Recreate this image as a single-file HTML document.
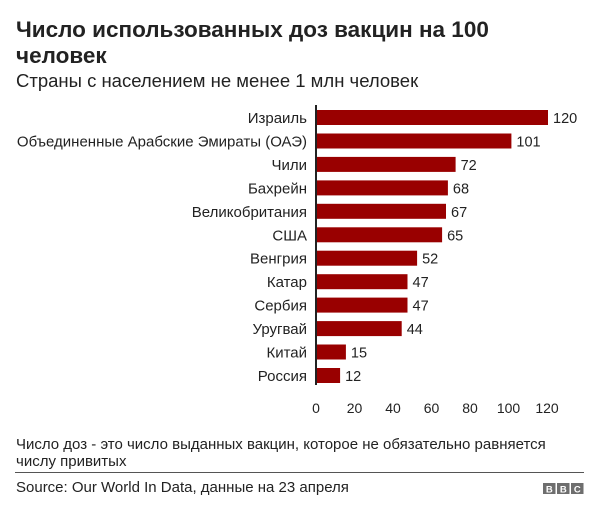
<!DOCTYPE html>
<html><head><meta charset="utf-8">
<style>
html,body{margin:0;padding:0;background:#fff;}
svg{display:block;font-family:"Liberation Sans","DejaVu Sans",sans-serif;}
</style></head>
<body>
<svg width="600" height="514" viewBox="0 0 600 514" xmlns="http://www.w3.org/2000/svg">
<rect width="600" height="514" fill="#fff"/>
<text x="16" y="37" font-size="22.5" font-weight="bold" fill="#222">Число использованных доз вакцин на 100</text>
<text x="16" y="63" font-size="22.5" font-weight="bold" fill="#222">человек</text>
<text x="16" y="87" font-size="18.5" fill="#222">Страны с населением не менее 1 млн человек</text>

<g font-size="15" fill="#222">
<g text-anchor="end">
<text x="307" y="123">Израиль</text>
<text x="307" y="146.5">Объединенные Арабские Эмираты (ОАЭ)</text>
<text x="307" y="170">Чили</text>
<text x="307" y="193.4">Бахрейн</text>
<text x="307" y="216.8">Великобритания</text>
<text x="307" y="240.3">США</text>
<text x="307" y="263.7">Венгрия</text>
<text x="307" y="287.2">Катар</text>
<text x="307" y="310.6">Сербия</text>
<text x="307" y="334">Уругвай</text>
<text x="307" y="357.5">Китай</text>
<text x="307" y="381">Россия</text>
</g>
</g>
<g fill="#990000">
<rect x="317" y="110" width="231" height="15"/>
<rect x="317" y="133.5" width="194.4" height="15"/>
<rect x="317" y="156.9" width="138.6" height="15"/>
<rect x="317" y="180.4" width="130.9" height="15"/>
<rect x="317" y="203.8" width="129" height="15"/>
<rect x="317" y="227.3" width="125.1" height="15"/>
<rect x="317" y="250.7" width="100.1" height="15"/>
<rect x="317" y="274.2" width="90.5" height="15"/>
<rect x="317" y="297.6" width="90.5" height="15"/>
<rect x="317" y="321.1" width="84.7" height="15"/>
<rect x="317" y="344.5" width="28.9" height="15"/>
<rect x="317" y="368" width="23.1" height="15"/>
</g>
<rect x="315" y="105" width="2" height="280" fill="#222"/>
<g font-size="14.5" fill="#222">
<text x="553" y="123">120</text>
<text x="516.4" y="146.5">101</text>
<text x="460.6" y="170">72</text>
<text x="452.9" y="193.4">68</text>
<text x="451" y="216.8">67</text>
<text x="447.1" y="240.3">65</text>
<text x="422.1" y="263.7">52</text>
<text x="412.5" y="287.2">47</text>
<text x="412.5" y="310.6">47</text>
<text x="406.7" y="334">44</text>
<text x="350.9" y="357.5">15</text>
<text x="345.1" y="381">12</text>
</g>
<g text-anchor="middle" font-size="14" fill="#222">
<text x="316" y="413">0</text>
<text x="354.5" y="413">20</text>
<text x="393" y="413">40</text>
<text x="431.5" y="413">60</text>
<text x="470" y="413">80</text>
<text x="508.5" y="413">100</text>
<text x="547" y="413">120</text>
</g>

<text x="16" y="449" font-size="15" fill="#222">Число доз - это число выданных вакцин, которое не обязательно равняется</text>
<text x="16" y="466" font-size="15" fill="#222">числу привитых</text>
<rect x="15" y="472" width="569" height="1" fill="#555"/>
<text x="16" y="492" font-size="15" fill="#222">Source: Our World In Data, данные на 23 апреля</text>
<g>
<rect x="543" y="483" width="12.5" height="11" fill="#6e6e6e"/>
<rect x="557" y="483" width="12.5" height="11" fill="#6e6e6e"/>
<rect x="571" y="483" width="12.5" height="11" fill="#6e6e6e"/>
<g font-size="9.5" font-weight="bold" fill="#fff" text-anchor="middle">
<text x="549.3" y="492.5">B</text>
<text x="563.3" y="492.5">B</text>
<text x="577.3" y="492.5">C</text>
</g>
</g>
</svg>
</body></html>
